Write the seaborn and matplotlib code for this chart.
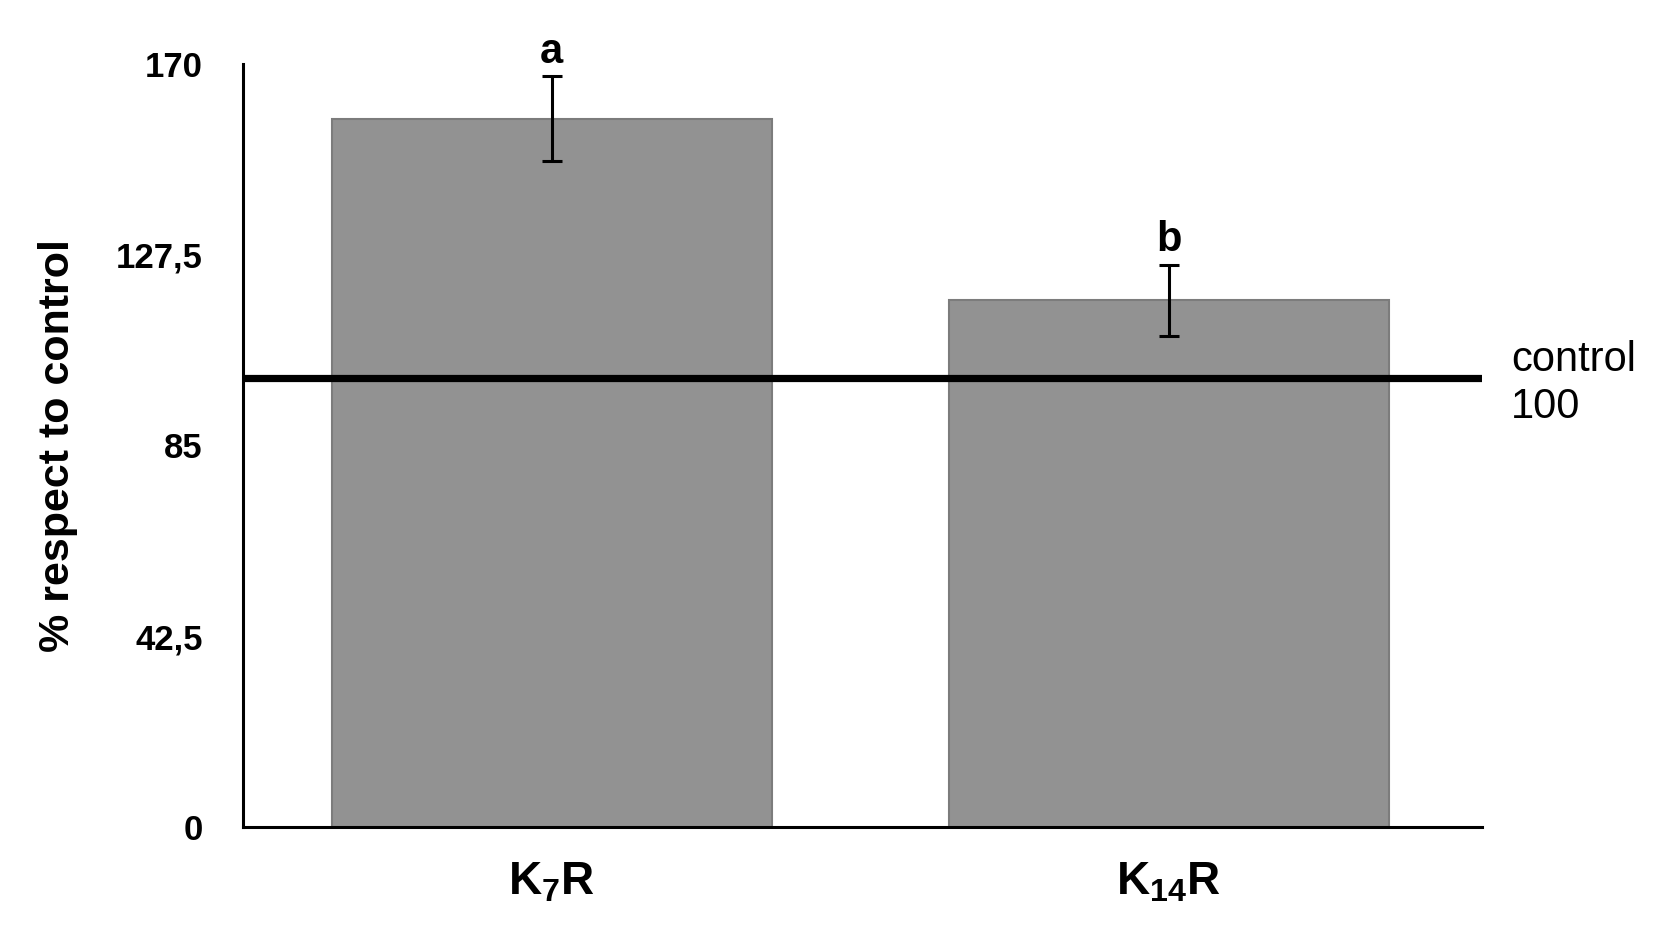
import matplotlib
matplotlib.use("Agg")
import matplotlib.pyplot as plt
import seaborn as sns
import pandas as pd

# values
groups = [r"$\mathbf{K_{7}R}$", r"$\mathbf{K_{14}R}$"]
means = [157.8, 117.4]
errors = [9.5, 7.9]
letters = ["a", "b"]
control_value = 100
yticks = [0, 42.5, 85, 127.5, 170]
ytick_labels = ["0", "42,5", "85", "127,5", "170"]

sns.set_style("white")
plt.rcParams["font.family"] = ["Liberation Sans", "DejaVu Sans"]
plt.rcParams["mathtext.fontset"] = "custom"
plt.rcParams["mathtext.rm"] = "Liberation Sans"
plt.rcParams["mathtext.bf"] = "Liberation Sans:bold"
for k in ["text.color", "axes.labelcolor", "xtick.color", "ytick.color"]:
    plt.rcParams[k] = "black"

df = pd.DataFrame({"group": groups, "value": means})

fig = plt.figure(figsize=(16.69, 9.35), dpi=100)
ax = fig.add_axes([0.1456, 0.1155, 0.7424, 0.8161])

sns.barplot(data=df, x="group", y="value", color="#929292", saturation=1,
            width=0.713, edgecolor="#7c7c7c", linewidth=1.5, errorbar=None, ax=ax)

# error bars from the reported errors
ax.errorbar(range(len(means)), means, yerr=errors, fmt="none", ecolor="black",
            elinewidth=2.2, capsize=7.5, capthick=2.2, zorder=4)

# significance letters
for i, (m, e, l) in enumerate(zip(means, errors, letters)):
    ax.text(i, m + e + 3, l, ha="center", va="baseline", fontsize=30,
            fontweight="bold", clip_on=False)

# control reference line
ax.axhline(control_value, color="black", linewidth=5.2, zorder=5)
ax.text(1.555, control_value - 1.2, "control\n100", ha="left", va="center",
        fontsize=30, linespacing=1.25, clip_on=False)

ax.set_xlim(-0.5, 1.508)
ax.set_ylim(0, 170)
ax.set_yticks(yticks)
ax.set_yticklabels(ytick_labels, fontsize=25, fontweight="bold")
ax.tick_params(axis="y", length=0, pad=29)
ax.tick_params(axis="x", length=0, pad=24, labelsize=33)
ax.set_xlabel("")
ax.set_ylabel("% respect to control", fontsize=31, fontweight="bold")
ax.yaxis.set_label_coords(-0.133, 0.5)

sns.despine(ax=ax)
for s in ["left", "bottom"]:
    ax.spines[s].set_linewidth(2.2)
    ax.spines[s].set_color("black")

fig.savefig("out.png", dpi=100, facecolor="white")
